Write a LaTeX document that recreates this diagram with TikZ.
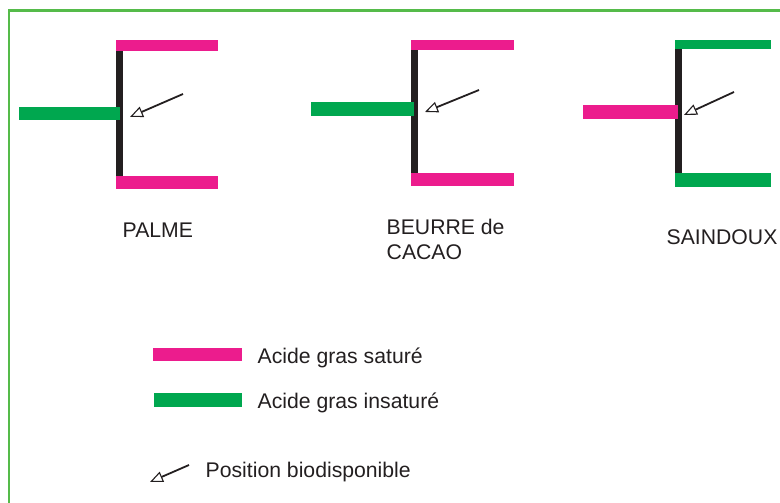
\documentclass[tikz,border=0pt]{standalone}
\usepackage{fontspec}
\setmainfont{Liberation Sans}
\usetikzlibrary{arrows.meta}
\definecolor{sat}{HTML}{EC1C8D}
\definecolor{insat}{HTML}{00A74F}
\definecolor{frame}{HTML}{55BB4A}
\definecolor{ink}{HTML}{231F20}
\tikzset{
  lbl/.style={inner sep=0pt, text=ink, font=\fontsize{21.2}{25}\selectfont},
  chain/.style={fill=ink, draw=none},
  satbar/.style={fill=sat, draw=none},
  insatbar/.style={fill=insat, draw=none},
  bioarrow/.style={draw=ink, line width=1.8pt, -{Triangle[open, length=13pt, width=11pt, line width=1.1pt]}},
}
\begin{document}
\begin{tikzpicture}[x=1pt, y=-1pt]
\useasboundingbox (0,0) rectangle (780,503);
% frame
\draw[frame, line width=2.5pt] (9.2,510) -- (9.2,10.3) -- (790,10.3);

% PALME
\fill[chain] (116,51) rectangle (123,177);
\fill[satbar] (116,40) rectangle (218,51);
\fill[satbar] (116,176) rectangle (218,189);
\fill[insatbar] (19,107) rectangle (120,120.5);
\coordinate (p1) at (183,94);
\coordinate (p2) at (130,117);
\draw[bioarrow] (p1) -- (p2);
\node[lbl, anchor=base west] (palme) at (122.5,237) {PALME};

% BEURRE de CACAO
\fill[chain] (411,50) rectangle (418,174);
\fill[satbar] (411,40) rectangle (514,50);
\fill[satbar] (411,173) rectangle (514,186);
\fill[insatbar] (311,102) rectangle (414,116);
\coordinate (c1) at (479,90);
\coordinate (c2) at (425,112);
\draw[bioarrow] (c1) -- (c2);
\node[lbl, anchor=north west, align=left] (cacao) at (386.5,219) {BEURRE de\\CACAO};

% SAINDOUX
\fill[chain] (675,49) rectangle (682,174);
\fill[insatbar] (675,40) rectangle (771,49);
\fill[insatbar] (675,173) rectangle (771,187);
\fill[satbar] (583,105) rectangle (678,119);
\coordinate (s1) at (734,92);
\coordinate (s2) at (684,115);
\draw[bioarrow] (s1) -- (s2);
\node[lbl, anchor=base west] (saindoux) at (666.5,244) {SAINDOUX};

% legend
\fill[satbar] (153,348) rectangle (242,361);
\node[lbl, anchor=base west] (lsat) at (257.5,363) {Acide gras saturé};
\fill[insatbar] (154,393) rectangle (242,407);
\node[lbl, anchor=base west] (linsat) at (257.5,408) {Acide gras insaturé};
\coordinate (l1) at (189,465);
\coordinate (l2) at (150,482);
\draw[bioarrow] (l1) -- (l2);
\node[lbl, anchor=base west] (lbio) at (205.5,477) {Position biodisponible};
\end{tikzpicture}
\end{document}
